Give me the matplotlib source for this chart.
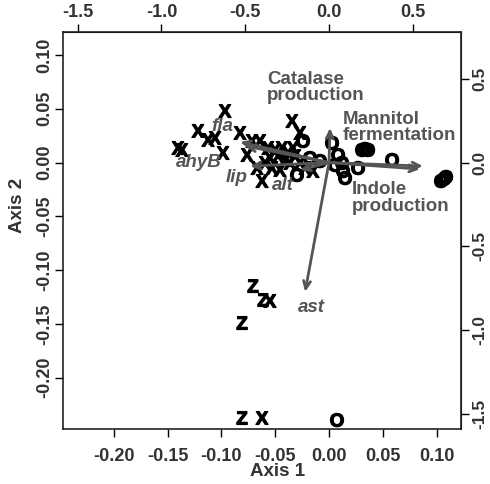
import numpy as np
import matplotlib.pyplot as plt
import matplotlib.patheffects as pe

# Sample scores (axis 1 / axis 2)
x_pts = [-0.0967, -0.1218, -0.1125, -0.1060, -0.1404, -0.1367, -0.0986, -0.0827,
         -0.0762, -0.0716, -0.0642, -0.0344, -0.0270, -0.0623, -0.0669, -0.0549,
         -0.0474, -0.0409, -0.0363, -0.0316, -0.0270, -0.0223, -0.0149, -0.0567,
         -0.0502, -0.0437, -0.0381, -0.0335, -0.0595, -0.0530, -0.0456, -0.0549,
         -0.0623]
y_pts = [0.0461, 0.0276, 0.0192, 0.0210, 0.0117, 0.0099, 0.0071, 0.0257,
         0.0052, 0.0182, 0.0182, 0.0368, 0.0257, -0.0190, -0.0069, 0.0024,
         0.0043, 0.0006, -0.0022, 0.0043, -0.0022, -0.0069, -0.0097, 0.0117,
         0.0099, 0.0117, 0.0071, 0.0117, -0.0022, -0.0069, -0.0087, -0.1305,
         -0.2393]

x_z = [-0.0707, -0.0614, -0.0809, -0.0809]
y_z = [-0.1166, -0.1296, -0.1510, -0.2393]

x_o = [-0.0298, -0.0242, -0.0177, -0.0084, 0.0028, 0.0056, 0.0084, 0.0121,
       0.0149, 0.0130, 0.0270, 0.0307, 0.0335, 0.0363, 0.0586, 0.1041,
       0.1069, 0.1088, 0.0074]
y_o = [-0.0134, 0.0182, 0.0024, -0.0004, 0.0164, -0.0041, 0.0052, -0.0022,
       -0.0162, -0.0097, -0.0069, 0.0099, 0.0108, 0.0099, 0.0006, -0.0190,
       -0.0171, -0.0152, -0.2412]

# Variable loadings (secondary axes)
var_names = ["Catalase\nproduction", "Mannitol\nfermentation", "Indole\nproduction",
             "ast", "fla", "ahyB", "lip", "alt"]
load_x = [0.006, 0.561, 0.543, -0.143, -0.531, -0.501, -0.471, -0.173]
load_y = [0.207, -0.021, -0.039, -0.772, 0.123, 0.099, -0.021, -0.044]
lab_x = [-0.370, 0.083, 0.137, -0.108, -0.639, -0.776, -0.549, -0.275]
lab_y = [0.448, 0.209, -0.211, -0.868, 0.218, -0.002, -0.092, -0.134]
italic = [False, False, False, True, True, True, True, True]

ratio = 6.42
fam = "Liberation Sans"
grey = "#555555"
tcol = "#333333"

fig = plt.figure(figsize=(4.9, 4.84), dpi=100)
ax = fig.add_axes([63/490, 1-429/484, 398/490, 397/484])
ax.set_xlim(-0.2473, 0.1227)
ax.set_ylim(-0.2477, 0.1214)

# points as letters
thick = [pe.withStroke(linewidth=0.9, foreground="black")]
for xs, ys, ch in [(x_pts, y_pts, "X"), (x_z, y_z, "Z"), (x_o, y_o, "O")]:
    for a, b in zip(xs, ys):
        ax.text(a, b, ch, ha="center", va="center", fontsize=13.5,
                fontweight="bold", family=fam, color="black", path_effects=thick)

# arrows + labels
for i in range(len(var_names)):
    ax.annotate("", xy=(load_x[i]/ratio, load_y[i]/ratio), xytext=(0, 0),
                arrowprops=dict(arrowstyle="->,head_length=0.55,head_width=0.25",
                                color=grey, lw=2, shrinkA=0, shrinkB=0))
for i in range(len(var_names)):
    ax.text(lab_x[i]/ratio, lab_y[i]/ratio, var_names[i],
            ha="center" if italic[i] else "left", va="center",
            fontsize=13.5, fontweight="bold", family=fam, color=grey,
            style="italic" if italic[i] else "normal", linespacing=0.95)

# primary axes
ax.set_xticks([-0.20, -0.15, -0.10, -0.05, 0.00, 0.05, 0.10])
ax.set_xticklabels(["-0.20", "-0.15", "-0.10", "-0.05", "0.00", "0.05", "0.10"])
ax.set_yticks([-0.20, -0.15, -0.10, -0.05, 0.00, 0.05, 0.10])
ax.set_yticklabels(["-0.20", "-0.15", "-0.10", "-0.05", "0.00", "0.05", "0.10"])
ax.tick_params(axis="x", length=6, width=1, pad=8, labelsize=13, labelcolor=tcol)
ax.tick_params(axis="y", length=6, width=1, pad=1, labelsize=13, labelcolor=tcol)
for lab in ax.get_xticklabels() + ax.get_yticklabels():
    lab.set_fontweight("bold")
    lab.set_family(fam)
for lab in ax.get_yticklabels():
    lab.set_rotation(90)
    lab.set_va("center")

# secondary axes for loadings
top = ax.secondary_xaxis("top", functions=(lambda v: v*ratio, lambda v: v/ratio))
top.set_xticks([-1.5, -1.0, -0.5, 0.0, 0.5])
top.set_xticklabels(["-1.5", "-1.0", "-0.5", "0.0", "0.5"])
top.tick_params(length=6, width=1, pad=2, labelsize=13, labelcolor=tcol)
right = ax.secondary_yaxis("right", functions=(lambda v: v*ratio, lambda v: v/ratio))
right.set_yticks([-1.5, -1.0, -0.5, 0.0, 0.5])
right.set_yticklabels(["-1.5", "-1.0", "-0.5", "0.0", "0.5"])
right.tick_params(length=6, width=1, pad=2, labelsize=12.5, labelcolor=tcol)
for lab in top.get_xticklabels() + right.get_yticklabels():
    lab.set_fontweight("bold")
    lab.set_family(fam)
for lab in right.get_yticklabels():
    lab.set_rotation(90)
    lab.set_va("center")

for s in ax.spines.values():
    s.set_linewidth(1.2)
    s.set_color("#222222")

fig.text(278/490, 1-472/484, "Axis 1", ha="center", va="center", fontsize=13.5,
         fontweight="bold", family=fam, color=tcol)
fig.text(18/490, 1-205/484, "Axis 2", ha="center", va="center", fontsize=13.5,
         fontweight="bold", family=fam, color=tcol, rotation=90)

fig.savefig("out.png", dpi=100)
